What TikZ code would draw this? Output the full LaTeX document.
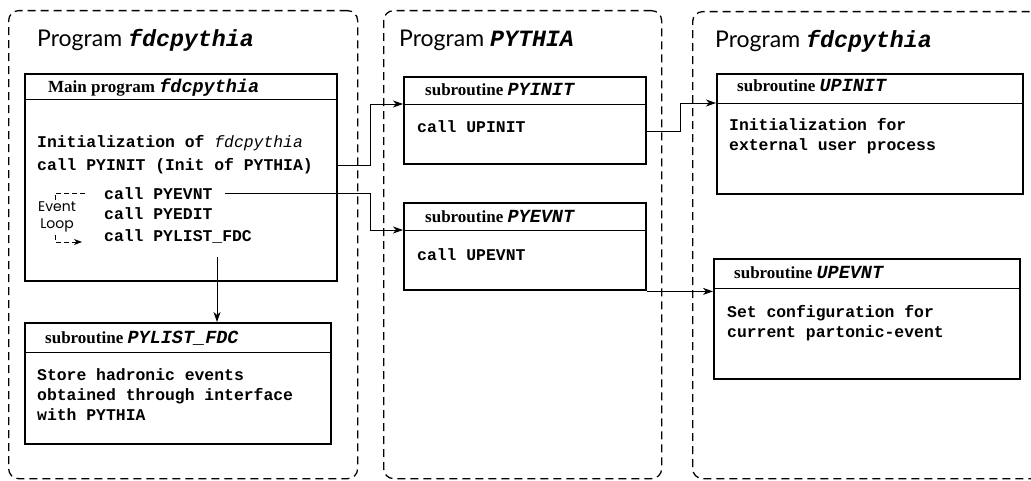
\documentclass[tikz,border=0pt]{standalone}
\usepackage{fontspec}
\setmainfont{Liberation Serif}
\setmonofont{Liberation Mono}
\newfontfamily\titlefont{Lato}
\newfontfamily\loopfont{Poppins}
\usetikzlibrary{arrows.meta}
\newcommand\hname[1]{{\ttfamily\bfseries\itshape\fontsize{18.5}{20}\selectfont #1}}
\newcommand\tname[1]{{\ttfamily\bfseries\itshape\fontsize{23.3}{26}\selectfont #1}}
\tikzset{
  container/.style={draw, line width=1.3pt, dash pattern=on 8pt off 5pt, rounded corners=10pt, anchor=north west, inner sep=0pt},
  box/.style={draw, line width=2.4pt, anchor=north west, inner sep=0pt},
  sepline/.style={line width=0.9pt},
  code/.style={anchor=base west, inner sep=0pt, font=\ttfamily\bfseries\fontsize{16.4}{20}\selectfont},
  hdr/.style={anchor=base west, inner sep=0pt, font=\bfseries\fontsize{17}{20}\selectfont},
  ttl/.style={anchor=base west, inner sep=0pt, font=\titlefont\fontsize{23}{26}\selectfont},
  conn/.style={line width=0.9pt},
  arr/.style={conn, -{Stealth[length=10pt,width=7pt,inset=3pt]}},
  loopdash/.style={line width=0.9pt, dash pattern=on 5pt off 3pt, -{Stealth[length=8pt,width=6pt,inset=2.5pt]}},
}
\begin{document}
\begin{tikzpicture}[x=1pt,y=-1pt]
\path[use as bounding box] (0,0) rectangle (1031,481);
\clip (0,0) rectangle (1031,481);

% containers
\node[container, minimum width=349pt, minimum height=468pt] (c1) at (8,10) {};
\node[container, minimum width=278pt, minimum height=468pt] (c2) at (383,10) {};
\node[container, minimum width=360pt, minimum height=467pt] (c3) at (692,11) {};

% titles
\node[ttl] (t1) at (37,47) {Program \tname{fdcpythia}};
\node[ttl] (t2) at (399,47) {Program \tname{PYTHIA}};
\node[ttl] (t3) at (715,48) {Program \tname{fdcpythia}};

% main program
\node[box, minimum width=312pt, minimum height=207pt] (main) at (24,73) {};
\draw[sepline] (main.west |- 0,99) -- (main.east |- 0,99);
\node[hdr] (mh) at (48,93) {Main program \hname{fdcpythia}};
\node[code] (m1) at (37,148) {Initialization of {\mdseries\itshape fdcpythia}};
\node[code] (m2) at (37,171) {call PYINIT (Init of PYTHIA)};
\node[code] (m3) at (104,200) {call PYEVNT};
\node[code] (m4) at (104,220) {call PYEDIT};
\node[code] (m5) at (104,242) {call PYLIST\_FDC};

% event loop
\coordinate (la) at (85,193);
\coordinate (lb) at (55,193);
\coordinate (lc) at (55,242);
\coordinate (ld) at (82,242);
\draw[loopdash] (la) -- (lb) -- (lc) -- (ld);
\node[fill=white, inner sep=1pt, align=center, font=\loopfont\fontsize{14}{16.5}\selectfont] (ev) at (57,217) {Event\\Loop};

% PYLIST_FDC
\node[box, minimum width=306pt, minimum height=121pt] (pl) at (24,322) {};
\draw[sepline] (pl.west |- 0,352) -- (pl.east |- 0,352);
\node[hdr] (plh) at (45,343) {subroutine \hname{PYLIST\_FDC}};
\node[code] (p1) at (37,380) {Store hadronic events};
\node[code] (p2) at (37,400) {obtained through interface};
\node[code] (p3) at (37,420) {with PYTHIA};

% PYINIT
\node[box, minimum width=242pt, minimum height=87pt] (pi) at (403,76) {};
\draw[sepline] (pi.west |- 0,104) -- (pi.east |- 0,104);
\node[hdr] (pih) at (425,96) {subroutine \hname{PYINIT}};
\node[code] (pi1) at (417,133) {call UPINIT};

% PYEVNT
\node[box, minimum width=242pt, minimum height=87pt] (pe) at (403,202) {};
\draw[sepline] (pe.west |- 0,230) -- (pe.east |- 0,230);
\node[hdr] (peh) at (425,223) {subroutine \hname{PYEVNT}};
\node[code] (pe1) at (417,261) {call UPEVNT};

% UPINIT
\node[box, minimum width=306pt, minimum height=120pt] (ui) at (716,73) {};
\draw[sepline] (ui.west |- 0,103) -- (ui.east |- 0,103);
\node[hdr] (uih) at (737,92) {subroutine \hname{UPINIT}};
\node[code] (ui1) at (729,131) {Initialization for};
\node[code] (ui2) at (729,151) {external user process};

% UPEVNT
\node[box, minimum width=306pt, minimum height=120pt] (ue) at (713,258) {};
\draw[sepline] (ue.west |- 0,288) -- (ue.east |- 0,288);
\node[hdr] (ueh) at (734,279) {subroutine \hname{UPEVNT}};
\node[code] (ue1) at (727,317) {Set configuration for};
\node[code] (ue2) at (727,337) {current partonic-event};

% connectors
\coordinate (j1) at (370,0);
\coordinate (j2) at (680,0);
\coordinate (k1) at ([yshift=6pt]m2.base);
\coordinate (k2) at ([yshift=7pt,xshift=12pt]m3.base east);
\coordinate (k3) at ([yshift=2pt]pi1.base);
\coordinate (k5) at ([xshift=113pt,yshift=-15pt]m5.base west);
\draw[arr] (main.east |- k1) -- (j1 |- k1) |- (pi.west |- 0,104);
\draw[arr] (k2) -- (j1 |- k2) |- (pe.west |- 0,230);
\draw[arr] (pi.east |- k3) -- (j2 |- k3) |- (ui.west |- 0,103);
\draw[arr] (pe.south east) -- (ue.west |- pe.south east);
\draw[arr] (k5) -- (k5 |- pl.north);
\end{tikzpicture}
\end{document}
